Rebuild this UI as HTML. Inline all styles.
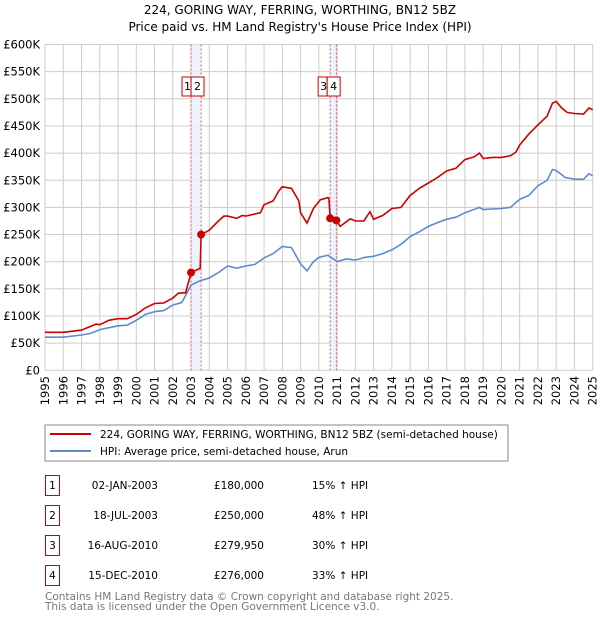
<!DOCTYPE html>
<html><head><meta charset="utf-8"><style>
body{margin:0;background:#fff;font-family:"DejaVu Sans","Liberation Sans",sans-serif;}
svg text{font-family:"DejaVu Sans","Liberation Sans",sans-serif;}
</style></head><body>
<svg id="c" width="600" height="620" xmlns="http://www.w3.org/2000/svg">
<text x="300" y="14" text-anchor="middle" font-size="12">224, GORING WAY, FERRING, WORTHING, BN12 5BZ</text>
<text x="300" y="31" text-anchor="middle" font-size="12">Price paid vs. HM Land Registry's House Price Index (HPI)</text>
<g id="grid"></g><g id="bands"></g><g id="series"></g><g id="axes"></g>
<rect x="45" y="425" width="463" height="36" fill="none" stroke="#888"/>
<line x1="50" y1="434" x2="91" y2="434" stroke="#cc0000" stroke-width="2"/>
<text x="100" y="438" font-size="10.5">224, GORING WAY, FERRING, WORTHING, BN12 5BZ (semi-detached house)</text>
<line x1="50" y1="451" x2="91" y2="451" stroke="#5b8ccc" stroke-width="2"/>
<text x="100" y="455" font-size="10.5">HPI: Average price, semi-detached house, Arun</text>
<g id="table" font-size="10.5"></g>
<text x="45" y="600" font-size="10.5" fill="#777">Contains HM Land Registry data © Crown copyright and database right 2025.</text>
<text x="45" y="610" font-size="10.5" fill="#777">This data is licensed under the Open Government Licence v3.0.</text>
</svg>
<script>
const years=[1995,1996,1997,1998,1999,2000,2001,2002,2003,2004,2005,2006,2007,2008,2009,2010,2011,2012,2013,2014,2015,2016,2017,2018,2019,2020,2021,2022,2023,2024,2025];
const yTicks=[0,50,100,150,200,250,300,350,400,450,500,550,600];
const priceT=[1995,1995.5,1996,1997,1997.8,1998,1998.5,1999,1999.5,2000,2000.5,2001,2001.5,2002,2002.3,2002.7,2003.0,2003.5,2003.55,2004,2004.5,2004.8,2005,2005.5,2005.8,2006,2006.5,2006.8,2007,2007.5,2007.8,2008,2008.5,2008.9,2009,2009.35,2009.7,2010.08,2010.5,2010.55,2010.62,2010.96,2011.17,2011.72,2012,2012.46,2012.8,2013,2013.5,2014,2014.5,2015,2015.5,2016,2016.5,2017,2017.5,2018,2018.5,2018.8,2019,2019.5,2020,2020.5,2020.8,2021,2021.5,2022,2022.5,2022.8,2023,2023.3,2023.6,2024,2024.5,2024.8,2025];
const priceV=[70,70,70,74,85,84,92,95,95,103,115,123,124,133,142,143,180,188,250,258,275,284,284,280,285,284,288,290,305,312,330,338,335,312,290,271,298,314,318,316,280,276,265,279,275,275,292,278,285,298,300,322,335,345,355,367,372,388,393,400,390,392,392,395,402,415,435,452,468,492,495,483,475,473,472,483,480];
const hpiT=[1995,1996,1997,1997.5,1998,1999,1999.5,2000,2000.5,2001,2001.5,2002,2002.5,2003,2003.5,2004,2004.5,2005,2005.5,2006,2006.5,2007,2007.5,2008,2008.5,2009,2009.35,2009.7,2010,2010.5,2011,2011.5,2012,2012.5,2013,2013.5,2014,2014.5,2015,2015.5,2016,2016.5,2017,2017.5,2018,2018.8,2019,2020,2020.5,2021,2021.5,2022,2022.5,2022.8,2023,2023.5,2024,2024.5,2024.8,2025];
const hpiV=[61,61,65,68,75,82,83,92,103,108,110,120,125,157,165,170,180,192,188,192,195,207,215,228,226,196,183,200,208,212,200,205,203,208,210,215,222,232,246,255,265,272,278,282,290,300,296,298,300,315,322,340,350,370,368,355,352,352,362,358];
const saleT=[2003.0,2003.55,2010.62,2010.96];
const saleV=[180,250,279.95,276];
const saleLabels=["1","2","3","4"];
const saleDates=["02-JAN-2003","18-JUL-2003","16-AUG-2010","15-DEC-2010"];
const salePrices=["£180,000","£250,000","£279,950","£276,000"];
const saleHpi=["15% ↑ HPI","48% ↑ HPI","30% ↑ HPI","33% ↑ HPI"];
const X0=45,X1=592.7,Y0=370.3,Y1=44.5;
const xs=t=>X0+(t-1995)/30*(X1-X0);
const ys=v=>Y0-v/600*(Y0-Y1);
const NS="http://www.w3.org/2000/svg";
function mk(tag,attrs,parent,txt){const e=document.createElementNS(NS,tag);for(const k in attrs)e.setAttribute(k,attrs[k]);if(txt!=null)e.textContent=txt;document.getElementById(parent).appendChild(e);return e;}
yTicks.forEach(v=>{
 const l=mk('line',{x1:X0,x2:X1,y1:ys(v),y2:ys(v),stroke:'#ccc'},'grid');
 
 
 const t=mk('text',{x:40,y:ys(v)+4,'text-anchor':'end','font-size':11.5},'axes',v===0?'£0':'£'+v+'K');
 
 
});
years.forEach(y=>{
 const l=mk('line',{x1:xs(y),x2:xs(y),y1:Y1,y2:Y0,stroke:'#ccc'},'grid');
 
 
 const t=mk('text',{x:0,y:0,'text-anchor':'end','font-size':11.5,transform:`translate(${xs(y)+4},376) rotate(-90)`},'axes',String(y));
 
 
});
[[0,1],[2,3]].forEach(p=>{
 const r=mk('rect',{x:xs(saleT[p[0]]),y:Y1,width:xs(saleT[p[1]])-xs(saleT[p[0]]),height:Y0-Y1,fill:'#e8f0fb',opacity:0.8},'bands');
 
 
});
saleT.forEach((t,i)=>{
 const l=mk('line',{x1:xs(t),x2:xs(t),y1:Y1,y2:Y0,stroke:'#e55','stroke-dasharray':'2,2'},'bands');
 
 
});
function path(T,V,col,name){
 const d=T.map((t,i)=>(i?'L':'M')+xs(t).toFixed(1)+','+ys(V[i]).toFixed(1)).join('');
 const p=mk('path',{d,fill:'none',stroke:col,'stroke-width':1.6},'series');
 
 
}
path(hpiT,hpiV,'#5b8ccc','hpi-line');
path(priceT,priceV,'#cc0000','price-line');
saleT.forEach((t,i)=>{
 const c=mk('circle',{cx:xs(t),cy:ys(saleV[i]),r:4,fill:'#cc0000'},'series');
 
 
});
saleT.forEach((t,i)=>{
 const first=i<2?0:2;
 const edge=xs(saleT[first])-(i<2?0:3);
 const w=i%2===0?9:13, x=i%2===0?edge-9:edge;
 const r=mk('rect',{x:x,y:77,width:w,height:19,fill:'#fff',stroke:'#cc0000'},'series');
 
 
 const tx=mk('text',{x:x+w/2+(i%2===0?1:0),y:90,'text-anchor':'middle','font-size':11},'series',saleLabels[i]);
 
 
});
saleT.forEach((t,i)=>{
 const cy=483+i*30;
 const r=mk('rect',{x:45.5,y:cy-7.5,width:14,height:20,fill:'none',stroke:'#cc0000'},'table');
 
 
 const a=mk('text',{x:52.5,y:cy+6,'text-anchor':'middle'},'table',saleLabels[i]);
 
 
 const b=mk('text',{x:158,y:cy+6,'text-anchor':'end'},'table',saleDates[i]);
 
 
 const c=mk('text',{x:264,y:cy+6,'text-anchor':'end'},'table',salePrices[i]);
 
 
 const d=mk('text',{x:312,y:cy+6},'table',saleHpi[i]);
 
 
});
</script>
</body></html>
